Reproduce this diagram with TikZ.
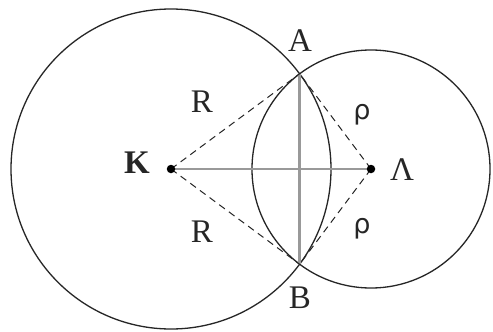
\documentclass[tikz,border=0pt]{standalone}
\usepackage{fontspec}
\setmainfont{Liberation Serif}
\newfontfamily\rhofont{DejaVu Sans}
\tikzset{
  circ/.style={draw=black!85, line width=1.3pt},
  axis/.style={draw=black!40, line width=2.6pt},
  radius line/.style={draw=black!85, line width=1pt, dash pattern=on 7pt off 5pt},
  lbl/.style={font=\fontsize{33}{33}\selectfont, inner sep=0pt, text=black!85},
  rholbl/.style={font=\fontsize{27}{27}\selectfont, inner sep=0pt, text=black!85},
  dot/.style={circle, fill=black, inner sep=0pt, minimum size=8.5pt}
}
\begin{document}
\begin{tikzpicture}[x=1pt,y=-1pt]
\useasboundingbox (0,0) rectangle (493,332);
\fill[white] (0,0) rectangle (493,332);
\coordinate (K) at (171,169);
\coordinate (L) at (371,169);
\coordinate (A) at (299.6,73.8);
\coordinate (B) at (299.6,264.2);
\draw[circ] (K) circle[radius=160];
\draw[circ] (L) circle[radius=119];
\draw[axis] (K) -- (L);
\draw[axis] (A) -- (B);
\draw[radius line] (K) -- (A);
\draw[radius line] (K) -- (B);
\draw[radius line] (L) -- (A);
\draw[radius line] (L) -- (B);
\node[dot] (Kd) at (K) {};
\node[dot] (Ld) at (L) {};
\node[lbl] (lA) at (300,41) {A};
\node[lbl] (lB) at (300,298) {B};
\node[lbl, font=\fontsize{33}{33}\selectfont\bfseries] (lK) at (137,163) {Κ};
\node[lbl] (lL) at (402,170) {Λ};
\node[lbl] (R1) at (202,102) {R};
\node[lbl] (R2) at (202,232) {R};
\node[rholbl] (r1) at (362,115) {\rhofont ρ};
\node[rholbl] (r2) at (362,229) {\rhofont ρ};
\end{tikzpicture}
\end{document}
